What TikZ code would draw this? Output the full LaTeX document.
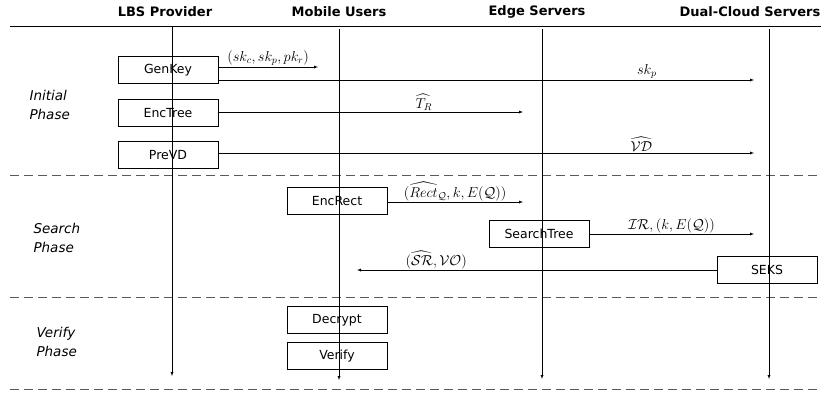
\documentclass[tikz,border=0pt]{standalone}
\usepackage{amsmath, amssymb}
\usepackage{fontspec}
\setsansfont{DejaVu Sans}
\usetikzlibrary{positioning}

\tikzset{
  head/.style={font=\sffamily\bfseries\fontsize{13}{15}\selectfont},
  phase/.style={font=\sffamily\itshape\fontsize{13.5}{19}\selectfont, align=left, anchor=west},
  proc/.style={draw, minimum width=100pt, minimum height=27pt, inner sep=0pt,
    font=\sffamily\fontsize{12.5}{14}\selectfont},
  life/.style={->, >=latex},
  msg/.style={->, >=latex},
  lbl/.style={font=\fontsize{14}{16}\selectfont, inner sep=1pt},
  sep/.style={dash pattern=on 9pt off 5pt, gray!70!black, line width=0.9pt}
}

\begin{document}
\begin{tikzpicture}[x=1pt, y=-1pt]
  \useasboundingbox (0,0) rectangle (821,394);

  % column headings
  \node[head] (hlbs)  at (165,12) {LBS Provider};
  \node[head] (hmob)  at (339,12) {Mobile Users};
  \node[head] (hedge) at (537,12) {Edge Servers};
  \node[head] (hdual) at (750,12) {Dual-Cloud Servers};

  % separators
  \draw[line width=0.9pt] (10,26) -- (821,26);
  \draw[sep] (10,175) -- (821,175);
  \draw[sep] (10,297) -- (821,297);
  \draw[sep] (10,389) -- (821,389);

  % lifelines
  \coordinate (lbs)  at (172,26);  \coordinate (lbsend)  at (172,376);
  \coordinate (mob)  at (339,29);  \coordinate (mobend)  at (339,380);
  \coordinate (edge) at (542,29);  \coordinate (edgeend) at (542,379);
  \coordinate (dual) at (769,29);  \coordinate (dualend) at (769,379);
  \draw[life] (lbs) -- (lbsend);
  \draw[life] (mob) -- (mobend);
  \draw[life] (edge) -- (edgeend);
  \draw[life] (dual) -- (dualend);

  % phase names
  \node[phase] (pinit)   at (26,105) {Initial\\Phase};
  \node[phase] (psearch) at (30,238) {Search\\Phase};
  \node[phase] (pverify) at (33,342) {Verify\\Phase};

  % initial phase
  \node[proc] (genkey)  at (168,70)  {GenKey};
  \node[proc] (enctree) at (168,113) {EncTree};
  \node[proc] (prevd)   at (168,155) {PreVD};

  \coordinate (kmob)  at (318,67);
  \coordinate (kdual) at (754,80);
  \coordinate (tedge) at (523,112);
  \coordinate (vdual) at (754,153);
  \draw[msg] (genkey.east |- kmob) -- (kmob)
    node[lbl, above, midway] {$(sk_c, sk_p, pk_r)$};
  \draw[msg] (genkey.east |- kdual) -- (kdual)
    node[lbl, above, pos=0.8] {$sk_p$};
  \draw[msg] (enctree.east |- tedge) -- (tedge)
    node[lbl, above, pos=0.675] {$\widehat{T_R}$};
  \draw[msg] (prevd.east |- vdual) -- (vdual)
    node[lbl, above, pos=0.79] {$\widehat{\mathcal{VD}}$};

  % search phase
  \node[proc] (encrect)    at (337,201) {EncRect};
  \node[proc] (searchtree) at (539,234) {SearchTree};
  \node[proc] (seks)       at (767,270) {SEKS};

  \coordinate (redge) at (523,202);
  \coordinate (idual) at (754,234);
  \coordinate (smob)  at (357,270);
  \draw[msg] (encrect.east |- redge) -- (redge)
    node[lbl, above, midway] {$(\widehat{Rect}_{\mathcal{Q}}, k, E(\mathcal{Q}))$};
  \draw[msg] (searchtree.east |- idual) -- (idual)
    node[lbl, above, midway] {$\mathcal{IR}, (k, E(\mathcal{Q}))$};
  \draw[msg] (seks.west |- smob) -- (smob)
    node[lbl, above, pos=0.78] {$(\widehat{\mathcal{SR}}, \mathcal{VO})$};

  % verify phase
  \node[proc] (decrypt) at (337,320) {Decrypt};
  \node[proc] (verify)  at (337,356) {Verify};
\end{tikzpicture}
\end{document}
